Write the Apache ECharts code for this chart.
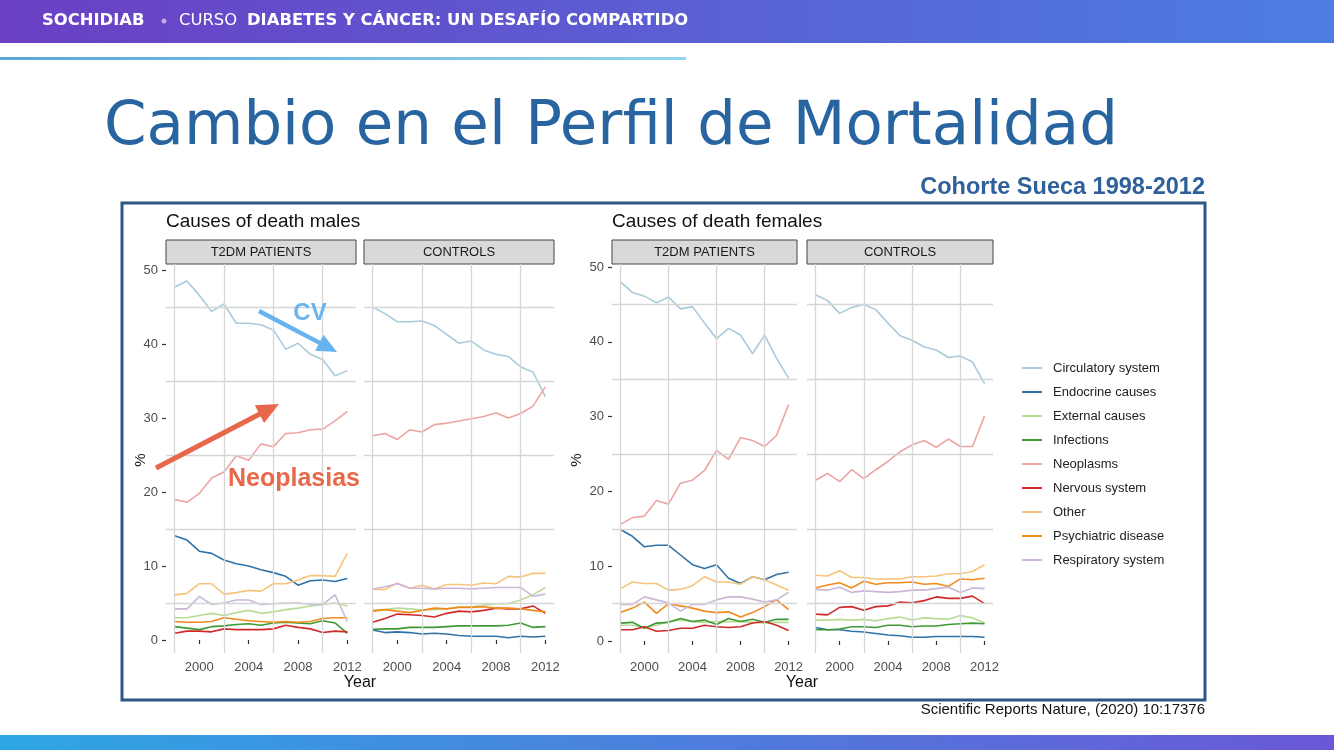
<!DOCTYPE html>
<html>
<head>
<meta charset="utf-8">
<script src="https://cdn.jsdelivr.net/npm/echarts@6/dist/echarts.min.js"></script>
<style>
  html, body { margin: 0; padding: 0; background: #fff; }
  #chart { width: 1334px; height: 750px; }
</style>
</head>
<body>
<div id="chart"></div>
<script>
// años y causas
const years = [1998, 1999, 2000, 2001, 2002, 2003, 2004, 2005, 2006, 2007, 2008, 2009, 2010, 2011, 2012]
const xTicks = [2000, 2004, 2008, 2012]
const yTicks = [0, 10, 20, 30, 40, 50]
const xGrid = [1998, 2002, 2006, 2010]
const yGrid = [5, 15, 25, 35, 45]
const causes = ['Circulatory system', 'Endocrine causes', 'External causes', 'Infections', 'Neoplasms',
  'Nervous system', 'Other', 'Psychiatric disease', 'Respiratory system']
const colors = ['#a9cbdc', '#2f72a8', '#b8dc96', '#3f9a35', '#eda5a3', '#d02a2a', '#f6c47a', '#f28a1c', '#cbb8d8']
const panelTitles = ['T2DM PATIENTS', 'CONTROLS', 'T2DM PATIENTS', 'CONTROLS']

// hombres, pacientes DM2
const mT2dmCirculatory = [47.7, 48.5, 46.6, 44.4, 45.4, 42.8, 42.8, 42.6, 41.9, 39.3, 40.1, 38.6, 37.9, 35.7, 36.4]
const mT2dmEndocrine = [14.1, 13.5, 12.0, 11.7, 10.8, 10.3, 10.0, 9.5, 9.1, 8.6, 7.4, 8.0, 8.1, 7.9, 8.3]
const mT2dmExternal = [3.0, 3.0, 3.3, 3.6, 3.3, 3.7, 4.0, 3.6, 3.8, 4.1, 4.3, 4.6, 4.8, 5.0, 4.6]
const mT2dmInfections = [1.8, 1.6, 1.4, 1.8, 1.9, 2.1, 2.2, 2.0, 2.3, 2.4, 2.3, 2.2, 2.6, 2.3, 0.9]
const mT2dmNeoplasms = [19.0, 18.6, 19.8, 21.9, 22.7, 24.9, 24.3, 26.5, 26.1, 27.9, 28.0, 28.4, 28.5, 29.6, 30.9]
const mT2dmNervous = [0.9, 1.2, 1.2, 1.1, 1.5, 1.4, 1.4, 1.4, 1.5, 2.0, 1.7, 1.5, 1.0, 1.2, 1.1]
const mT2dmOther = [6.1, 6.3, 7.6, 7.6, 6.2, 6.4, 6.7, 6.6, 7.6, 7.6, 8.1, 8.7, 8.7, 8.6, 11.7]
const mT2dmPsychiatric = [2.5, 2.4, 2.4, 2.5, 3.0, 2.8, 2.6, 2.5, 2.4, 2.5, 2.4, 2.5, 2.9, 3.0, 3.0]
const mT2dmRespiratory = [4.2, 4.2, 5.9, 4.8, 5.0, 5.4, 5.4, 4.8, 4.9, 5.0, 5.0, 4.8, 4.8, 6.1, 2.5]

// hombres, controles
const mCtrlCirculatory = [45.0, 44.1, 43.0, 43.0, 43.1, 42.5, 41.3, 40.1, 40.4, 39.2, 38.6, 38.3, 36.9, 36.2, 32.9]
const mCtrlEndocrine = [1.35, 1.0, 1.1, 1.0, 0.8, 0.9, 0.8, 0.6, 0.5, 0.5, 0.5, 0.3, 0.5, 0.4, 0.5]
const mCtrlExternal = [4.05, 4.1, 4.3, 4.2, 4.05, 4.1, 4.2, 4.5, 4.5, 4.7, 4.9, 4.9, 5.4, 6.1, 7.1]
const mCtrlInfections = [1.45, 1.5, 1.5, 1.7, 1.7, 1.7, 1.8, 1.9, 1.9, 1.9, 1.9, 2.0, 2.3, 1.7, 1.8]
const mCtrlNeoplasms = [27.6, 27.9, 27.1, 28.4, 28.1, 29.1, 29.3, 29.6, 29.9, 30.2, 30.7, 30.0, 30.6, 31.6, 34.2]
const mCtrlNervous = [2.4, 2.9, 3.5, 3.4, 3.3, 3.1, 3.6, 3.9, 3.8, 4.0, 4.3, 4.2, 4.2, 4.6, 3.6]
const mCtrlOther = [6.85, 6.8, 7.7, 7.0, 7.4, 6.9, 7.5, 7.5, 7.4, 7.7, 7.6, 8.6, 8.5, 9.0, 9.0]
const mCtrlPsychiatric = [3.9, 4.1, 3.9, 3.7, 4.0, 4.3, 4.2, 4.4, 4.4, 4.5, 4.3, 4.3, 4.2, 4.0, 3.8]
const mCtrlRespiratory = [6.85, 7.2, 7.6, 7.0, 7.0, 6.9, 7.0, 7.0, 6.9, 7.0, 7.1, 7.1, 7.1, 5.9, 6.2]

// mujeres, pacientes DM2
const fT2dmCirculatory = [48.0, 46.6, 46.1, 45.2, 46.0, 44.4, 44.7, 42.5, 40.4, 41.8, 40.9, 38.4, 40.9, 37.8, 35.1]
const fT2dmEndocrine = [14.9, 14.0, 12.6, 12.8, 12.8, 11.5, 10.2, 9.7, 10.2, 8.4, 7.7, 8.6, 8.2, 8.9, 9.2]
const fT2dmExternal = [2.1, 2.1, 1.8, 2.1, 2.6, 2.8, 2.6, 2.5, 2.6, 2.6, 2.6, 2.5, 2.4, 2.5, 2.5]
const fT2dmInfections = [2.4, 2.5, 1.7, 2.4, 2.5, 3.0, 2.6, 2.8, 2.2, 3.0, 2.6, 2.9, 2.5, 2.9, 2.9]
const fT2dmNeoplasms = [15.6, 16.5, 16.7, 18.8, 18.3, 21.1, 21.5, 22.8, 25.5, 24.3, 27.2, 26.8, 26.0, 27.5, 31.6]
const fT2dmNervous = [1.5, 1.5, 1.9, 1.3, 1.4, 1.7, 1.7, 2.1, 1.9, 1.8, 1.9, 2.4, 2.6, 2.1, 1.4]
const fT2dmOther = [7.0, 7.9, 7.7, 7.7, 6.8, 6.9, 7.4, 8.6, 7.9, 7.9, 7.6, 8.6, 8.2, 7.5, 6.8]
const fT2dmPsychiatric = [3.8, 4.4, 5.2, 3.7, 5.0, 4.7, 4.4, 4.0, 3.8, 3.9, 3.2, 3.8, 4.6, 5.5, 4.2]
const fT2dmRespiratory = [4.9, 4.9, 5.9, 5.5, 5.1, 4.0, 4.9, 4.9, 5.5, 5.9, 5.9, 5.6, 5.2, 5.5, 6.5]

// mujeres, controles
const fCtrlCirculatory = [46.3, 45.5, 43.8, 44.6, 45.0, 44.3, 42.5, 40.8, 40.2, 39.3, 38.9, 37.9, 38.1, 37.3, 34.4]
const fCtrlEndocrine = [1.8, 1.5, 1.5, 1.3, 1.2, 1.0, 0.8, 0.7, 0.5, 0.5, 0.6, 0.6, 0.6, 0.6, 0.5]
const fCtrlExternal = [2.8, 2.8, 2.9, 2.8, 2.9, 2.7, 3.0, 3.2, 2.8, 3.1, 3.0, 2.9, 3.4, 3.1, 2.4]
const fCtrlInfections = [1.5, 1.5, 1.6, 1.9, 1.9, 1.8, 2.1, 2.1, 1.9, 2.0, 2.0, 2.2, 2.3, 2.4, 2.3]
const fCtrlNeoplasms = [21.5, 22.4, 21.3, 22.9, 21.7, 22.9, 24.0, 25.3, 26.2, 26.8, 25.9, 27.0, 26.0, 26.0, 30.1]
const fCtrlNervous = [3.6, 3.5, 4.5, 4.6, 4.1, 4.6, 4.7, 5.2, 5.1, 5.4, 5.9, 5.7, 5.7, 6.0, 5.0]
const fCtrlOther = [8.8, 8.7, 9.4, 8.5, 8.5, 8.3, 8.3, 8.3, 8.6, 8.6, 8.7, 9.0, 9.0, 9.3, 10.2]
const fCtrlPsychiatric = [7.1, 7.5, 7.8, 7.1, 8.0, 7.6, 7.8, 7.8, 7.9, 7.6, 7.7, 7.3, 8.3, 8.2, 8.4]
const fCtrlRespiratory = [6.9, 6.8, 7.2, 6.5, 6.7, 6.6, 6.5, 6.6, 6.8, 6.8, 7.0, 7.2, 6.5, 7.1, 7.0]

const panels = [
  [mT2dmCirculatory, mT2dmEndocrine, mT2dmExternal, mT2dmInfections, mT2dmNeoplasms, mT2dmNervous, mT2dmOther, mT2dmPsychiatric, mT2dmRespiratory],
  [mCtrlCirculatory, mCtrlEndocrine, mCtrlExternal, mCtrlInfections, mCtrlNeoplasms, mCtrlNervous, mCtrlOther, mCtrlPsychiatric, mCtrlRespiratory],
  [fT2dmCirculatory, fT2dmEndocrine, fT2dmExternal, fT2dmInfections, fT2dmNeoplasms, fT2dmNervous, fT2dmOther, fT2dmPsychiatric, fT2dmRespiratory],
  [fCtrlCirculatory, fCtrlEndocrine, fCtrlExternal, fCtrlInfections, fCtrlNeoplasms, fCtrlNervous, fCtrlOther, fCtrlPsychiatric, fCtrlRespiratory],
]

const FONT = '"Liberation Sans", Arial, sans-serif'
const HEAD_FONT = '"DejaVu Sans", sans-serif'
const PANEL_TOP = 264
const PANEL_H = 389
// posición de cada panel
const panelBox = [
  { left: 166, width: 190, yMin: -1.76, yMax: 50.81 },
  { left: 364, width: 190, yMin: -1.76, yMax: 50.81 },
  { left: 612, width: 185, yMin: -1.6, yMax: 50.4 },
  { left: 807, width: 186, yMin: -1.6, yMax: 50.4 },
]

const grids = panelBox.map(b => ({ left: b.left, top: PANEL_TOP, width: b.width, height: PANEL_H }))

const xAxes = panelBox.map((b, i) => ({
  type: 'value', gridIndex: i, min: 1997.3, max: 2012.7,
  axisLine: { show: false },
  splitLine: { show: false },
  axisTick: { show: true, customValues: xTicks, length: 4, lineStyle: { color: '#333', width: 1.2 } },
  axisLabel: { customValues: xTicks, margin: 8, fontSize: 13, color: '#4d4d4d', fontFamily: FONT, formatter: v => String(v) },
}))

const yAxes = panelBox.map((b, i) => ({
  type: 'value', gridIndex: i, min: b.yMin, max: b.yMax,
  axisLine: { show: false },
  splitLine: { show: false },
  axisTick: { show: i % 2 === 0, customValues: yTicks, length: 4, lineStyle: { color: '#333', width: 1.2 } },
  axisLabel: { show: i % 2 === 0, customValues: yTicks, margin: 8, fontSize: 13, color: '#4d4d4d', fontFamily: FONT },
}))

const series = []
panels.forEach((panel, p) => {
  // rejilla (solo líneas intermedias, como en la figura original)
  series.push({
    type: 'line', name: 'grid' + p, xAxisIndex: p, yAxisIndex: p, data: [], silent: true,
    markLine: {
      silent: true, symbol: ['none', 'none'], label: { show: false },
      lineStyle: { color: '#d6d6d6', width: 1.3, type: 'solid' },
      data: [...yGrid.map(v => ({ yAxis: v })), ...xGrid.map(v => ({ xAxis: v }))],
    },
    z: 1,
  })
  panel.forEach((vals, c) => {
    series.push({
      type: 'line', name: causes[c], xAxisIndex: p, yAxisIndex: p,
      data: years.map((y, i) => [y, vals[i]]),
      symbol: 'none', showSymbol: false, silent: true,
      lineStyle: { width: 1.6, color: colors[c] },
      itemStyle: { color: colors[c] },
      z: 3,
    })
  })
})

// flecha de anotación
const arrow = (x1, y1, x2, y2, color, w, headLen, headW) => {
  const dx = x2 - x1, dy = y2 - y1
  const len = Math.sqrt(dx * dx + dy * dy)
  const ux = dx / len, uy = dy / len
  const bx = x2 - ux * headLen, by = y2 - uy * headLen
  return [
    { type: 'line', z: 20, shape: { x1, y1, x2: bx + ux * 2, y2: by + uy * 2 }, style: { stroke: color, lineWidth: w } },
    { type: 'polygon', z: 20, shape: { points: [[x2, y2], [bx - uy * headW / 2, by + ux * headW / 2], [bx + uy * headW / 2, by - ux * headW / 2]] }, style: { fill: color } },
  ]
}

const strips = panelBox.map((b, i) => ({
  type: 'group', children: [
    { type: 'rect', shape: { x: b.left, y: 240, width: b.width, height: 24 }, style: { fill: '#d9d9d9', stroke: '#444', lineWidth: 1 } },
    { type: 'text', x: b.left + b.width / 2, y: 252, style: { text: panelTitles[i], fontSize: 13, fontFamily: FONT, fill: '#1a1a1a', align: 'center', verticalAlign: 'middle' } },
  ],
}))

const yName = x => ({ type: 'text', x: x, y: 460, rotation: Math.PI / 2,
  style: { text: '%', fontSize: 15, fontFamily: FONT, fill: '#111', align: 'center', verticalAlign: 'middle' } })

const graphic = [
  // barra superior
  { type: 'rect', z: 0, shape: { x: 0, y: 0, width: 1334, height: 43 },
    style: { fill: new echarts.graphic.LinearGradient(0, 0, 1, 0, [{ offset: 0, color: '#6a3fc4' }, { offset: 1, color: '#4c7ee0' }]) } },
  { type: 'text', x: 42, y: 21, style: { text: 'SOCHIDIAB', fontSize: 16.4, fontWeight: 'bold', fontFamily: HEAD_FONT, fill: '#fff', verticalAlign: 'middle' } },
  { type: 'circle', shape: { cx: 164, cy: 21, r: 2.5 }, style: { fill: '#c9a6f2' } },
  { type: 'text', x: 179, y: 21, style: { text: 'CURSO', fontSize: 16.4, fontFamily: HEAD_FONT, fill: '#fff', verticalAlign: 'middle' } },
  { type: 'text', x: 247, y: 21, style: { text: 'DIABETES Y CÁNCER: UN DESAFÍO COMPARTIDO', fontSize: 16.4, fontWeight: 'bold', fontFamily: HEAD_FONT, fill: '#fff', verticalAlign: 'middle' } },
  { type: 'rect', shape: { x: 0, y: 57, width: 686, height: 3 },
    style: { fill: new echarts.graphic.LinearGradient(0, 0, 1, 0, [{ offset: 0, color: '#5aa6d8' }, { offset: 1, color: '#92d4ee' }]) } },
  // título
  { type: 'text', x: 104, y: 128, style: { text: 'Cambio en el Perfil de Mortalidad', fontSize: 61, fontFamily: HEAD_FONT, fill: '#2864a0', verticalAlign: 'middle' } },
  { type: 'text', x: 1205, y: 188, style: { text: 'Cohorte Sueca 1998-2012', fontSize: 23.5, fontWeight: 'bold', fontFamily: FONT, fill: '#2f609a', align: 'right', verticalAlign: 'middle' } },
  // marco de la figura
  { type: 'rect', z: -1, shape: { x: 122, y: 203, width: 1083, height: 497 }, style: { fill: '#fff', stroke: '#2b5686', lineWidth: 3 } },
  { type: 'text', x: 166, y: 222, style: { text: 'Causes of death males', fontSize: 19, fontFamily: FONT, fill: '#111', verticalAlign: 'middle' } },
  { type: 'text', x: 612, y: 222, style: { text: 'Causes of death females', fontSize: 19, fontFamily: FONT, fill: '#111', verticalAlign: 'middle' } },
  ...strips,
  yName(141),
  yName(577),
  { type: 'text', x: 360, y: 683, style: { text: 'Year', fontSize: 16, fontFamily: FONT, fill: '#111', align: 'center', verticalAlign: 'middle' } },
  { type: 'text', x: 802, y: 683, style: { text: 'Year', fontSize: 16, fontFamily: FONT, fill: '#111', align: 'center', verticalAlign: 'middle' } },
  { type: 'text', x: 1205, y: 710, style: { text: 'Scientific Reports Nature, (2020) 10:17376', fontSize: 15, fontFamily: FONT, fill: '#111', align: 'right', verticalAlign: 'middle' } },
  // anotaciones
  ...arrow(259, 311, 337, 352, '#66b3f0', 4.5, 20, 18),
  { type: 'text', z: 20, x: 310, y: 313, style: { text: 'CV', fontSize: 24, fontWeight: 'bold', fontFamily: FONT, fill: '#6ab4f0', align: 'center', verticalAlign: 'middle' } },
  ...arrow(156, 468, 279, 404, '#e8674a', 5, 22, 20),
  { type: 'text', z: 20, x: 228, y: 479, style: { text: 'Neoplasias', fontSize: 25, fontWeight: 'bold', fontFamily: FONT, fill: '#e8694a', verticalAlign: 'middle' } },
  // barra inferior
  { type: 'rect', shape: { x: 0, y: 735, width: 1334, height: 15 },
    style: { fill: new echarts.graphic.LinearGradient(0, 0, 1, 0, [{ offset: 0, color: '#2ea6e4' }, { offset: 1, color: '#6a58d6' }]) } },
]

const chart = echarts.init(document.getElementById('chart'))
chart.setOption({
  animation: false,
  backgroundColor: '#fff',
  grid: grids,
  xAxis: xAxes,
  yAxis: yAxes,
  legend: {
    data: causes, orient: 'vertical', left: 1022, top: 361, padding: 0,
    icon: 'rect', itemWidth: 20, itemHeight: 2, itemGap: 10, selectedMode: false,
    textStyle: { fontSize: 13, color: '#222', fontFamily: FONT, lineHeight: 14, padding: [0, 0, 0, 6] },
  },
  graphic: graphic,
  series: series,
})
</script>
</body>
</html>
